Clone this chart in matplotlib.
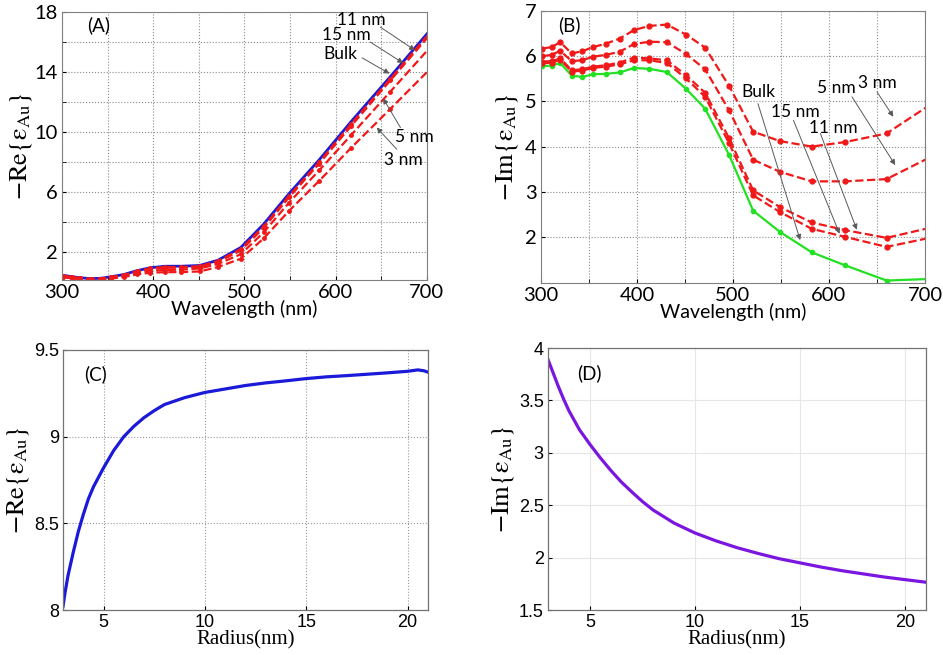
import numpy as np
import matplotlib
matplotlib.use("Agg")
import matplotlib.pyplot as plt
from matplotlib.ticker import MultipleLocator, FixedLocator

plt.rcParams['mathtext.fontset'] = 'stix'

# --- data ---
wavelength = [301, 311, 320, 332, 343, 354, 368, 382, 397, 413, 431, 451,
              471, 496, 521, 549, 582, 617, 660, 705]

re_bulk = [0.45, 0.35, 0.28, 0.22, 0.25, 0.35, 0.50, 0.75, 0.95, 1.05, 1.05, 1.10,
           1.45, 2.30, 3.85, 5.90, 8.15, 10.70, 13.70, 16.90]
re_15nm = [0.42, 0.33, 0.26, 0.20, 0.23, 0.33, 0.47, 0.72, 0.91, 1.00, 1.00, 1.05,
           1.40, 2.20, 3.70, 5.75, 8.00, 10.55, 13.55, 16.75]
re_11nm = [0.40, 0.31, 0.24, 0.19, 0.22, 0.31, 0.45, 0.69, 0.87, 0.95, 0.95, 1.00,
           1.33, 2.10, 3.60, 5.65, 7.90, 10.40, 13.45, 16.60]
re_5nm = [0.36, 0.27, 0.21, 0.17, 0.19, 0.27, 0.40, 0.60, 0.75, 0.80, 0.82, 0.90,
          1.20, 1.85, 3.30, 5.30, 7.45, 9.80, 12.70, 15.75]
re_3nm = [0.32, 0.24, 0.18, 0.15, 0.16, 0.23, 0.33, 0.50, 0.62, 0.65, 0.66, 0.70,
          1.00, 1.55, 2.90, 4.75, 6.75, 8.95, 11.55, 14.30]

im_bulk = [5.78, 5.79, 5.85, 5.57, 5.54, 5.60, 5.61, 5.64, 5.74, 5.72, 5.65, 5.28,
           4.84, 3.81, 2.58, 2.11, 1.66, 1.37, 1.035, 1.07]
im_15nm = [5.84, 5.86, 5.92, 5.66, 5.68, 5.74, 5.77, 5.82, 5.91, 5.91, 5.85, 5.51,
           5.10, 4.07, 2.92, 2.55, 2.18, 2.00, 1.78, 1.98]
im_11nm = [5.88, 5.89, 5.95, 5.69, 5.71, 5.77, 5.80, 5.86, 5.97, 5.95, 5.91, 5.58,
           5.19, 4.18, 3.03, 2.66, 2.32, 2.15, 1.98, 2.20]
im_5nm = [6.00, 6.03, 6.12, 5.89, 5.91, 5.99, 6.03, 6.10, 6.27, 6.32, 6.31, 6.05,
          5.71, 4.80, 3.71, 3.44, 3.23, 3.23, 3.28, 3.76]
im_3nm = [6.17, 6.20, 6.31, 6.06, 6.11, 6.20, 6.28, 6.39, 6.58, 6.67, 6.70, 6.48,
          6.19, 5.34, 4.33, 4.12, 4.00, 4.10, 4.29, 4.92]

radius_c = [3.0, 3.1, 3.25, 3.5, 3.75, 4.0, 4.25, 4.5, 5.0, 5.5, 6.0, 6.5, 7.0,
            7.5, 8.0, 9.0, 10.0, 11.0, 12.0, 13.0, 14.0, 15.0, 16.0, 17.0, 18.0,
            19.0, 20.0, 20.5, 20.8, 21.0]
re_radius = [8.02, 8.10, 8.20, 8.33, 8.45, 8.55, 8.64, 8.71, 8.82, 8.92, 9.00,
             9.06, 9.11, 9.15, 9.185, 9.225, 9.255, 9.275, 9.295, 9.31, 9.322,
             9.335, 9.345, 9.352, 9.36, 9.368, 9.377, 9.385, 9.38, 9.372]

radius_d = [3.0, 3.25, 3.5, 3.75, 4.0, 4.5, 5.0, 5.5, 6.0, 6.5, 7.0, 7.5, 8.0,
            9.0, 10.0, 11.0, 12.0, 13.0, 14.0, 15.0, 16.0, 17.0, 18.0, 19.0,
            20.0, 21.0]
im_radius = [3.89, 3.76, 3.63, 3.51, 3.40, 3.22, 3.08, 2.95, 2.83, 2.72, 2.625,
             2.535, 2.455, 2.33, 2.235, 2.16, 2.095, 2.04, 1.99, 1.95, 1.91,
             1.875, 1.845, 1.815, 1.79, 1.765]

RED = '#f01818'
BLUE = '#1a1ad8'
GREEN = '#22e022'
PURPLE = '#7a16e0'
tick_font = 'Lato'
label_font = 'Liberation Serif'

RE_LABEL = r'$-\mathrm{Re}\left\{\mathrm{\varepsilon}_{\mathrm{Au}}\right\}$'
IM_LABEL = r'$-\mathrm{Im}\left\{\mathrm{\varepsilon}_{\mathrm{Au}}\right\}$'

fig = plt.figure(figsize=(9.43, 6.55), dpi=100)
axA = fig.add_axes([0.0657, 0.5725, 0.387, 0.409])
axB = fig.add_axes([0.5737, 0.5679, 0.4072, 0.4153])
axC = fig.add_axes([0.0668, 0.0687, 0.387, 0.397])
axD = fig.add_axes([0.5811, 0.0687, 0.4008, 0.400])


def style_wave_axes(ax):
    ax.set_xlim(300, 700)
    ax.xaxis.set_major_locator(MultipleLocator(100))
    ax.xaxis.set_minor_locator(MultipleLocator(50))
    ax.grid(True, which='both', linestyle=':', color='0.55', lw=0.8)
    ax.tick_params(which='both', direction='in', length=3, labelsize=14.5, pad=3)
    for lab in ax.get_xticklabels() + ax.get_yticklabels():
        lab.set_fontfamily(tick_font)
    for s in ax.spines.values():
        s.set_color('0.5')
        s.set_linewidth(0.8)
    ax.set_xlabel('Wavelength (nm)', fontsize=14, fontfamily=tick_font, labelpad=-1)


arrow = dict(arrowstyle='-|>', color='0.35', lw=0.7, mutation_scale=8, shrinkA=0, shrinkB=0)

# (A) real part vs wavelength
axA.plot(wavelength, re_bulk, color=BLUE, lw=2.0)
for vals in [re_15nm, re_11nm, re_5nm, re_3nm]:
    axA.plot(wavelength, vals, color=RED, lw=1.6, ls='--', marker='o', ms=2.5)
axA.set_ylim(0.13, 18)
axA.yaxis.set_major_locator(FixedLocator([2, 6, 10, 14, 18]))
axA.yaxis.set_minor_locator(FixedLocator([4, 8, 12, 16]))
style_wave_axes(axA)
axA.set_ylabel(RE_LABEL, fontsize=19, labelpad=0)
axA.text(340, 17.1, '(A)', fontsize=13.5, fontfamily=tick_font, ha='center', va='center')
for txt, tx, ty, sx, sy, ex, ey in [
        ('11 nm', 628, 17.45, 649, 17.0, 687, 15.45),
        ('15 nm', 612, 16.45, 638, 16.0, 674, 14.6),
        ('Bulk', 605, 15.2, 629, 14.95, 659, 13.9),
        ('5 nm', 686, 9.7, 671, 10.3, 652, 12.25),
        ('3 nm', 674, 8.15, 667, 8.85, 645, 10.3)]:
    axA.text(tx, ty, txt, fontsize=12.5, fontfamily=tick_font, ha='center', va='center')
    axA.annotate('', xy=(ex, ey), xytext=(sx, sy), arrowprops=arrow)

# (B) imaginary part vs wavelength
axB.plot(wavelength, im_bulk, color=GREEN, lw=1.6, marker='o', ms=3)
for vals in [im_15nm, im_11nm, im_5nm, im_3nm]:
    axB.plot(wavelength, vals, color=RED, lw=1.6, ls='--', marker='o', ms=3.5)
axB.set_ylim(0.98, 7)
axB.yaxis.set_major_locator(FixedLocator([2, 3, 4, 5, 6, 7]))
style_wave_axes(axB)
axB.set_ylabel(IM_LABEL, fontsize=19, labelpad=4)
axB.text(330, 6.69, '(B)', fontsize=13.5, fontfamily=tick_font, ha='center', va='center')
for txt, tx, ty, sx, sy, ex, ey in [
        ('Bulk', 526, 5.2, 526, 4.95, 570, 1.93),
        ('15 nm', 565, 4.77, 563, 4.58, 611, 2.07),
        ('11 nm', 604, 4.40, 591, 4.29, 629, 2.16),
        ('5 nm', 608, 5.29, 624, 5.10, 669, 3.59),
        ('3 nm', 650, 5.41, 650, 5.21, 667, 4.66)]:
    axB.text(tx, ty, txt, fontsize=12.5, fontfamily=tick_font, ha='center', va='center')
    axB.annotate('', xy=(ex, ey), xytext=(sx, sy), arrowprops=arrow)


def style_radius_axes(ax, grid_ls, grid_color):
    ax.set_xlim(3, 21)
    ax.xaxis.set_major_locator(FixedLocator([5, 10, 15, 20]))
    ax.grid(True, linestyle=grid_ls, color=grid_color, lw=0.8)
    ax.tick_params(direction='in', length=3, labelsize=13, pad=3)
    for lab in ax.get_xticklabels() + ax.get_yticklabels():
        lab.set_fontfamily('Liberation Sans')
    for s in ax.spines.values():
        s.set_color('0.45')
        s.set_linewidth(0.9)
    ax.set_xlabel('Radius(nm)', fontsize=15, fontfamily=label_font, labelpad=-1)


# (C) real part vs radius
axC.plot(radius_c, re_radius, color=BLUE, lw=2.3)
axC.set_ylim(8, 9.5)
axC.yaxis.set_major_locator(FixedLocator([8, 8.5, 9, 9.5]))
axC.yaxis.set_major_formatter(plt.FuncFormatter(lambda v, p: f'{v:g}'))
style_radius_axes(axC, ':', '0.6')
axC.set_ylabel(RE_LABEL, fontsize=19, labelpad=2)
axC.text(4.6, 9.36, '(C)', fontsize=13.5, fontfamily=tick_font, ha='center', va='center')

# (D) imaginary part vs radius
axD.plot(radius_d, im_radius, color=PURPLE, lw=2.3)
axD.set_ylim(1.5, 4)
axD.yaxis.set_major_locator(FixedLocator([1.5, 2, 2.5, 3, 3.5, 4]))
axD.yaxis.set_major_formatter(plt.FuncFormatter(lambda v, p: f'{v:g}'))
style_radius_axes(axD, '-', '0.9')
axD.set_ylabel(IM_LABEL, fontsize=19, labelpad=2)
axD.text(4.95, 3.76, '(D)', fontsize=13.5, fontfamily=tick_font, ha='center', va='center')

fig.savefig('out.png', dpi=100)
